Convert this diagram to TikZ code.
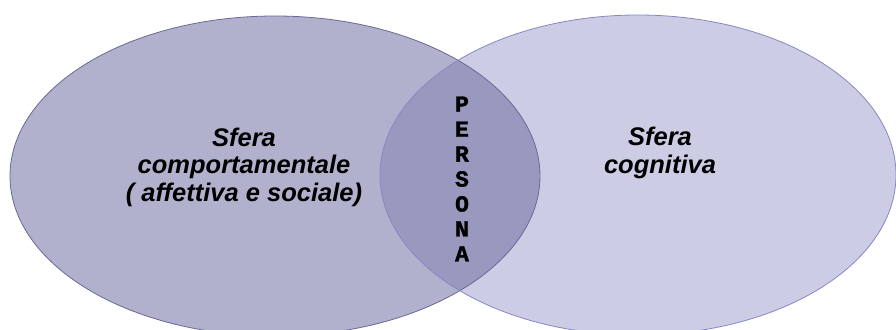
\documentclass[tikz,border=0pt]{standalone}
\usepackage{fontspec}
\setmainfont{Liberation Sans}
\newfontfamily\monob[BoldFeatures={FakeBold=1.5}]{Liberation Mono}
\definecolor{leftfill}{RGB}{177,177,205}
\definecolor{rightfill}{RGB}{204,204,229}
\definecolor{midfill}{RGB}{153,153,192}
\definecolor{leftline}{RGB}{105,105,150}
\definecolor{rightline}{RGB}{135,135,195}
\tikzset{
  sfera/.style={font=\fontsize{25.5}{27.5}\selectfont\bfseries\itshape, align=center, inner sep=0pt},
  persona/.style={font=\fontsize{23}{24.95}\selectfont\monob\bfseries, align=center, inner sep=0pt}
}
\begin{document}
\begin{tikzpicture}[x=1pt,y=-1pt]
\useasboundingbox (0,0) rectangle (896,329);
\fill[leftfill] (275,176) ellipse [x radius=265, y radius=160];
\fill[rightfill] (638,175) ellipse [x radius=258, y radius=160];
\begin{scope}
  \clip (275,176) ellipse [x radius=265, y radius=160];
  \fill[midfill] (638,175) ellipse [x radius=258, y radius=160];
\end{scope}
\draw[leftline, line width=0.8pt] (275,176) ellipse [x radius=265, y radius=160];
\draw[rightline, line width=0.8pt] (638,175) ellipse [x radius=258, y radius=160];
\node[sfera] (comp) at (244,167) {Sfera\\comportamentale\\( affettiva e sociale)};
\node[sfera] (cogn) at (660,153) {Sfera\\cognitiva};
\node[persona] (pers) at (462,179) {P\\E\\R\\S\\O\\N\\A};
\end{tikzpicture}
\end{document}
